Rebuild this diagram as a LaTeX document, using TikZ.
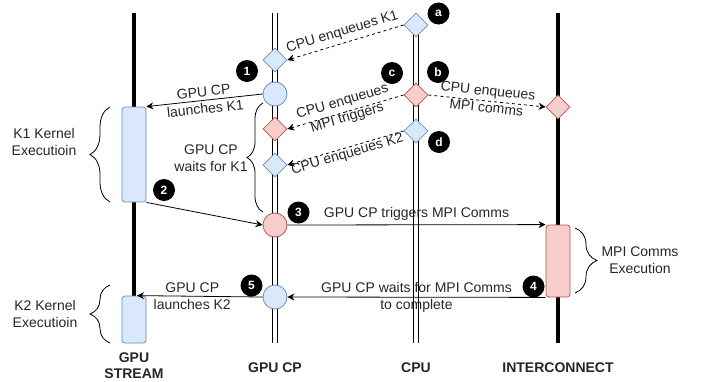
\documentclass[tikz,border=0pt]{standalone}
\usepackage{fontspec}
\setmainfont{Liberation Sans}
\usetikzlibrary{arrows.meta,shapes.geometric,decorations.pathreplacing,calc}
\definecolor{bfill}{HTML}{DAE8FC}
\definecolor{bdraw}{HTML}{6C8EBF}
\definecolor{rfill}{HTML}{F8CECC}
\definecolor{rdraw}{HTML}{B85450}
\begin{document}
\begin{tikzpicture}[x=1pt,y=-1pt,
  lbl/.style={font=\fontsize{14}{16.8}\selectfont, align=center, inner sep=0pt, text=black!85},
  hdr/.style={font=\fontsize{14}{16}\selectfont\bfseries, align=center, inner sep=0pt, text=black!85},
  tlane/.style={line width=4.5pt},
  dlane/.style={double, double distance=3.4pt, line width=1pt},
  bdia/.style={diamond, aspect=1, minimum width=24pt, minimum height=24pt, inner sep=0pt, draw=bdraw, fill=bfill, line width=0.8pt},
  rdia/.style={bdia, draw=rdraw, fill=rfill},
  bcirc/.style={circle, minimum size=24pt, inner sep=0pt, draw=bdraw, fill=bfill, line width=0.8pt},
  rcirc/.style={bcirc, draw=rdraw, fill=rfill},
  bbox/.style={rectangle, rounded corners=3pt, minimum width=24pt, inner sep=0pt, draw=bdraw, fill=bfill, line width=0.8pt},
  rbox/.style={bbox, draw=rdraw, fill=rfill},
  num/.style={circle, fill=black, text=white, minimum size=22pt, inner sep=0pt, font=\fontsize{12}{12}\selectfont\bfseries},
  arr/.style={-{Stealth[length=7pt,width=7pt]}, line width=0.8pt},
  darr/.style={arr, dash pattern=on 3pt off 3pt},
  brc/.style={decorate, decoration={brace, amplitude=#1}, line width=0.8pt}
]
\useasboundingbox (0,0) rectangle (701,381);

% lanes
\coordinate (sTop) at (134,13);
\coordinate (sBot) at (134,296);
\coordinate (cpTop) at (275,13);
\coordinate (cpBot) at (275,343);
\coordinate (cuTop) at (416,25);
\coordinate (cuBot) at (416,343);
\coordinate (icTop) at (558,13);
\coordinate (icBot) at (558,343);
\draw[tlane] (sTop) -- (sBot);
\draw[dlane] (cpTop) -- (cpBot);
\draw[dlane] (cuTop) -- (cuBot);
\draw[tlane] (icTop) -- (icBot);

% shapes
\node[bbox, minimum height=95pt] (k1) at (134,154.5) {};
\node[bbox, minimum height=47pt] (k2) at (134,319.5) {};
\node[rbox, minimum height=72pt] (mpi) at (558,261) {};
\node[bdia] (qa) at (416,25) {};
\node[rdia] (qb) at (416,95) {};
\node[bdia] (qd) at (416,131) {};
\node[rdia] (qi) at (558,107) {};
\node[bdia] (p1) at (275,60) {};
\node[bcirc] (p2) at (275,94) {};
\node[rdia] (p3) at (275,129) {};
\node[bdia] (p4) at (275,165) {};
\node[rcirc] (p5) at (275,225) {};
\node[bcirc] (p6) at (275,297) {};
\coordinate (k2in) at ($(k2.north)+(3,0)$);

% connectors
\draw[darr] (qa.west) -- node[lbl, sloped, above=4pt] {CPU enqueues K1} (p1.east);
\draw[arr] (p2.west) -- node[lbl, sloped] {GPU CP\\launches K1} (k1.north east);
\draw[darr] (qb.west) -- node[lbl, sloped, yshift=2pt] {CPU enqueues\\MPI triggers} (p3.east);
\draw[darr] (qb.east) -- node[lbl, sloped, yshift=2pt] {CPU enqueues\\MPI comms} (qi.west);
\draw[darr] (qd.west) -- node[lbl, sloped, yshift=-7pt] {CPU enqueues K2} (p4.east);
\draw[arr] (k1.south east) -- (p5.west);
\draw[arr] (p5.east) -- node[lbl, above=4pt] {GPU CP triggers MPI Comms} (mpi.north west);
\draw[arr] (mpi.south west) -- node[lbl] {GPU CP waits for MPI Comms\\to complete} (p6.east);
\draw[arr] (p6.west) -- node[lbl, pos=0.56] {GPU CP\\launches K2} (k2in);

% braces
\draw[brc=20] (110,202) -- (110,107);
\node[lbl] (k1txt) at (44,142) {K1 Kernel\\Executioin};
\draw[brc=20] (110,343) -- (110,285);
\node[lbl] (k2txt) at (45,314) {K2 Kernel\\Executioin};
\draw[brc=16] (263,212) -- (263,103);
\node[lbl] (waittxt) at (211,158) {GPU CP\\waits for K1};
\draw[brc=22] (575,228) -- (575,293);
\node[lbl] (mpitxt) at (640,260) {MPI Comms\\Execution};

% numbers
\node[num] (n1) at (247,71) {1};
\node[num] (n2) at (164,190) {2};
\node[num] (n3) at (298.5,212.5) {3};
\node[num] (n4) at (533.5,286.5) {4};
\node[num] (n5) at (251.5,285.5) {5};
\node[num] (na) at (438.5,13.5) {a};
\node[num] (nb) at (438,72) {b};
\node[num] (nc) at (392,73) {c};
\node[num] (nd) at (439,142) {d};

% headers
\node[hdr] (hs) at (134,366) {GPU\\STREAM};
\node[hdr] (hcp) at (275,367.5) {GPU CP};
\node[hdr] (hcpu) at (416,367.5) {CPU};
\node[hdr] (hic) at (558,367.5) {INTERCONNECT};
\end{tikzpicture}
\end{document}
